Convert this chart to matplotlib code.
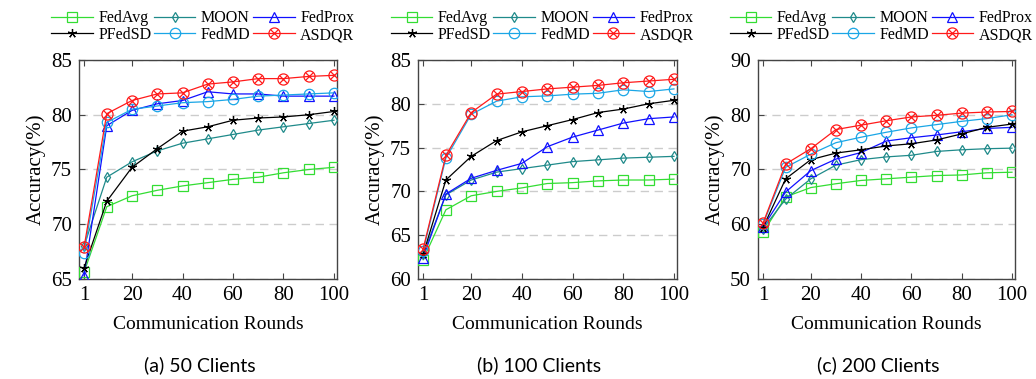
import matplotlib
matplotlib.use("Agg")
import matplotlib.pyplot as plt
from matplotlib.legend_handler import HandlerTuple

plt.rcParams['font.family'] = ['Liberation Serif', 'DejaVu Serif']
plt.rcParams['mathtext.fontset'] = 'stix'

rounds = [1, 10, 20, 30, 40, 50, 60, 70, 80, 90, 100]

# (a) 50 clients
a_fedavg = [65.6, 71.6, 72.6, 73.1, 73.5, 73.8, 74.1, 74.3, 74.7, 75.0, 75.2]
a_moon = [68.0, 74.3, 75.7, 76.7, 77.4, 77.8, 78.2, 78.6, 78.9, 79.2, 79.5]
a_fedprox = [65.3, 79.0, 80.4, 81.0, 81.3, 82.1, 81.9, 81.9, 81.7, 81.7, 81.7]
a_pfedsd = [66.0, 72.1, 75.2, 76.9, 78.5, 78.9, 79.5, 79.7, 79.8, 80.0, 80.3]
a_fedmd = [67.4, 79.3, 80.5, 80.8, 81.1, 81.2, 81.4, 81.7, 81.8, 81.9, 82.0]
a_asdqr = [67.9, 80.1, 81.3, 81.9, 82.0, 82.8, 83.0, 83.3, 83.3, 83.5, 83.6]

# (b) 100 clients
b_fedavg = [62.2, 67.9, 69.5, 70.0, 70.4, 70.9, 71.0, 71.2, 71.3, 71.3, 71.4]
b_moon = [62.8, 69.6, 71.3, 72.2, 72.6, 73.0, 73.4, 73.6, 73.8, 73.9, 74.0]
b_fedprox = [62.4, 69.7, 71.5, 72.4, 73.2, 75.1, 76.2, 77.0, 77.8, 78.3, 78.5]
b_pfedsd = [62.8, 71.3, 74.0, 75.8, 76.8, 77.5, 78.2, 79.0, 79.4, 80.0, 80.4]
b_fedmd = [63.2, 73.8, 78.8, 80.3, 80.8, 80.9, 81.1, 81.2, 81.6, 81.4, 81.7]
b_asdqr = [63.4, 74.1, 79.0, 81.1, 81.4, 81.7, 81.9, 82.1, 82.4, 82.6, 82.8]

# (c) 200 clients
c_fedavg = [58.5, 65.0, 66.7, 67.4, 68.0, 68.3, 68.6, 68.9, 69.0, 69.4, 69.5]
c_moon = [59.2, 64.6, 68.3, 70.8, 71.8, 72.3, 72.6, 73.3, 73.6, 73.8, 73.9]
c_fedprox = [59.5, 65.9, 69.8, 71.9, 73.1, 75.2, 75.8, 76.3, 76.9, 77.5, 77.7]
c_pfedsd = [59.4, 68.3, 71.8, 73.0, 73.6, 74.3, 74.7, 75.4, 76.5, 77.7, 78.3]
c_fedmd = [60.0, 70.4, 72.8, 74.9, 75.9, 76.8, 77.6, 78.2, 78.8, 79.3, 80.0]
c_asdqr = [60.2, 71.0, 73.8, 77.3, 78.1, 78.9, 79.6, 79.9, 80.3, 80.5, 80.6]

panels = [
    ("(a) 50 Clients", [a_fedavg, a_moon, a_fedprox, a_pfedsd, a_fedmd, a_asdqr], (65, 85), [65, 70, 75, 80, 85]),
    ("(b) 100 Clients", [b_fedavg, b_moon, b_fedprox, b_pfedsd, b_fedmd, b_asdqr], (60, 85), [60, 65, 70, 75, 80, 85]),
    ("(c) 200 Clients", [c_fedavg, c_moon, c_fedprox, c_pfedsd, c_fedmd, c_asdqr], (50, 90), [50, 60, 70, 80, 90]),
]

names = ["FedAvg", "MOON", "FedProx", "PFedSD", "FedMD", "ASDQR"]
colors = ["#33dd33", "#1f8a8a", "#1010ff", "black", "#1aa6e6", "#ff1a1a"]
markers = ["s", "d", "^", (5, 2, 0), "o", "o"]
msizes = [7, 5.5, 7, 6.5, 7.5, 8]

fig = plt.figure(figsize=(10.36, 3.79), dpi=100)
lefts = [79, 418, 758]
widths = [258, 259, 257]

for k, (caption, series, ylim, yticks) in enumerate(panels):
    ax = fig.add_axes([lefts[k] / 1036, 1 - 279 / 379, widths[k] / 1036, 219 / 379])
    handles = {}
    for i, ys in enumerate(series):
        h, = ax.plot(rounds, ys, color=colors[i], marker=markers[i], markersize=msizes[i],
                     markerfacecolor='none', markeredgecolor=colors[i],
                     markeredgewidth=0.9, linewidth=0.9, zorder=3 + i)
        if names[i] == "ASDQR":
            h2, = ax.plot(rounds, ys, linestyle='none', marker='x', markersize=5.2,
                          color=colors[i], markeredgewidth=0.9, zorder=3 + i)
            handles[names[i]] = (h, h2)
        else:
            handles[names[i]] = h
    ax.set_xlim(-1, 101.2)
    ax.set_ylim(*ylim)
    ax.set_xticks([1, 20, 40, 60, 80, 100])
    ax.set_yticks(yticks)
    ax.tick_params(direction='in', top=True, right=False, length=4, labelsize=15,
                   color='#444444', pad=5)
    for s in ax.spines.values():
        s.set_color('#444444')
        s.set_linewidth(1.0)
    ax.grid(axis='y', linestyle=(0, (6, 4)), color='#cccccc', linewidth=1.0, zorder=0)
    ax.set_ylabel("Accuracy(%)", fontsize=15, labelpad=4)
    ax.set_xlabel("Communication Rounds", fontsize=14, labelpad=8)

    order = ["FedAvg", "PFedSD", "MOON", "FedMD", "FedProx", "ASDQR"]
    ax.legend([handles[n] for n in order], order, loc='lower center',
              bbox_to_anchor=(0.48, 1.07), ncol=3, frameon=False, fontsize=11.5,
              handlelength=2.6, columnspacing=0.15, handletextpad=0.35,
              labelspacing=0.05, borderaxespad=0.0, borderpad=0.1,
              handler_map={tuple: HandlerTuple(ndivide=1)})

    cx = (lefts[k] + widths[k] / 2 - 8) / 1036
    fig.text(cx, 1 - 365 / 379, caption, ha='center', va='center', fontsize=14,
             family=['Lato', 'DejaVu Sans'])

fig.savefig("out.png", dpi=100)
